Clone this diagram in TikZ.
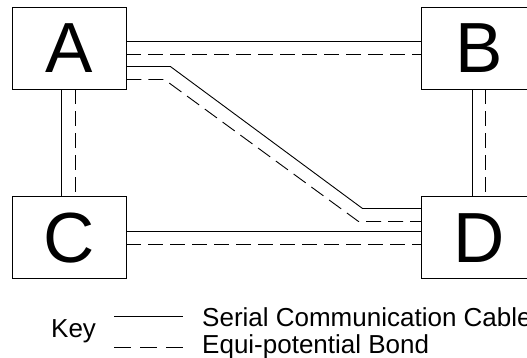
\documentclass[tikz,border=0pt]{standalone}
\usepackage{fontspec}
\setmainfont{Liberation Sans}
\usetikzlibrary{positioning}

\begin{document}
\begin{tikzpicture}[x=1pt,y=1pt,
        unit/.style={draw,line width=0.9pt,minimum width=114pt,minimum height=82pt,
                     inner sep=0pt,font=\fontsize{71}{71}\selectfont},
        cable/.style={line width=0.9pt},
        bond/.style={line width=0.9pt,dash pattern=on 15pt off 7pt},
        keytext/.style={inner sep=0pt,anchor=base west,font=\fontsize{26}{27}\selectfont}]

        \useasboundingbox (0,0) rectangle (527,-358);

        \node[unit] (A) at (69,-48) {A};
        \node[unit] (B) [right=295pt of A] {B};
        \node[unit] (C) [below=107pt of A] {C};
        \node[unit] (D) [below=107pt of B] {D};

        % A -- B
        \draw[cable] ([yshift=-35pt]A.north east) -- ([yshift=-35pt]B.north west);
        \draw[bond]  ([yshift=-48pt]A.north east) -- ([yshift=-48pt]B.north west);
        % A -- D
        \draw[cable] ([yshift=-60pt]A.north east) -- ++(44,0)
                     -- ([xshift=-59pt,yshift=-12pt]D.north west) -- ([yshift=-12pt]D.north west);
        \draw[bond]  ([yshift=-73pt]A.north east) -- ++(38,0)
                     -- ([xshift=-63pt,yshift=-25pt]D.north west) -- ([yshift=-25pt]D.north west);
        % C -- D
        \draw[cable] ([yshift=-35pt]C.north east) -- ([yshift=-35pt]D.north west);
        \draw[bond]  ([yshift=-48pt]C.north east) -- ([yshift=-48pt]D.north west);
        % A -- C and B -- D
        \draw[cable] ([xshift=50pt]A.south west) -- ([xshift=50pt]C.north west);
        \draw[bond]  ([xshift=64pt]A.south west) -- ([xshift=64pt]C.north west);
        \draw[cable] ([xshift=51pt]B.south west) -- ([xshift=51pt]D.north west);
        \draw[bond]  ([xshift=64pt]B.south west) -- ([xshift=64pt]D.north west);

        % key
        \node[keytext] (key) at (51,-337) {Key};
        \node[keytext] (keyserial) at (202,-326) {Serial Communication Cable};
        \node[keytext] (keybond) at (202,-353) {Equi-potential Bond};
        \coordinate (s0) at (114,-316);
        \coordinate (s1) at (183,-316);
        \coordinate (e0) at (114,-347);
        \coordinate (e1) at (183,-347);
        \draw[cable] (s0) -- (s1);
        \draw[bond,dash pattern=on 17pt off 9pt] (e0) -- (e1);
\end{tikzpicture}
\end{document}
